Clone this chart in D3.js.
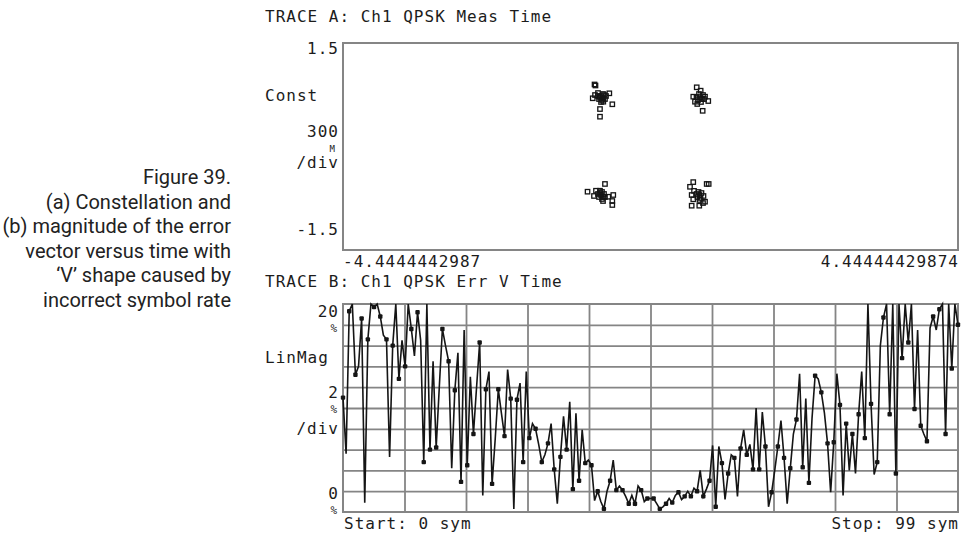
<!DOCTYPE html>
<html>
<head>
<meta charset="utf-8">
<script src="https://cdn.jsdelivr.net/npm/d3@7"></script>
<style>
    body { margin: 0; background: #fff; }
    svg { display: block; }
    .mono { font-family: "DejaVu Sans Mono", monospace; font-size: 16px; letter-spacing: 1px; fill: #1c1c1c; }
    .caption { font-family: "Liberation Sans Narrow", "Arial Narrow", Roboto, "Liberation Sans", sans-serif; font-size: 20px; fill: #222; }
</style>
</head>
<body>
<div id="chart"></div>
<script>
// ---- text
const captionLines = ["Figure 39.", "(a) Constellation and", "(b) magnitude of the error",
                      "vector versus time with", "\u2018V\u2019 shape caused by", "incorrect symbol rate"];
const traceATitle = "TRACE A: Ch1 QPSK Meas Time";
const traceBTitle = "TRACE B: Ch1 QPSK Err V Time";
const constXLabels = ["-4.4444442987", "4.44444429874"];
const errXLabels = ["Start: 0 sym", "Stop: 99 sym"];

// ---- trace A : constellation (I, Q)
const constXDomain = [-4.4444442987, 4.44444429874];
const constYDomain = [-1.5, 1.5];

const clusterTL = [[-0.809, 0.899], [-0.795, 0.884], [-0.835, 0.699], [-0.802, 0.746], [-0.759, 0.775],
                   [-0.595, 0.771], [-0.552, 0.612], [-0.730, 0.543], [-0.730, 0.432], [-0.682, 0.649],
                   [-0.643, 0.732], [-0.715, 0.732], [-0.686, 0.703], [-0.744, 0.688], [-0.701, 0.674],
                   [-0.672, 0.746], [-0.730, 0.717], [-0.658, 0.688], [-0.759, 0.732], [-0.686, 0.761],
                   [-0.715, 0.645]];
const clusterTR = [[0.668, 0.858], [0.725, 0.809], [0.618, 0.722], [0.643, 0.649], [0.835, 0.659],
                   [0.754, 0.517], [0.676, 0.616], [0.788, 0.722], [0.715, 0.717], [0.744, 0.688],
                   [0.686, 0.674], [0.759, 0.746], [0.701, 0.761], [0.730, 0.645], [0.773, 0.688],
                   [0.665, 0.717]];
const clusterBL = [[-0.910, -0.655], [-0.658, -0.543], [-0.817, -0.717], [-0.788, -0.641], [-0.730, -0.641],
                   [-0.538, -0.703], [-0.552, -0.790], [-0.552, -0.848], [-0.610, -0.728], [-0.759, -0.688],
                   [-0.715, -0.703], [-0.686, -0.732], [-0.744, -0.732], [-0.672, -0.688], [-0.701, -0.761],
                   [-0.730, -0.674], [-0.658, -0.732], [-0.701, -0.659], [-0.686, -0.790]];
const clusterBR = [[0.618, -0.516], [0.812, -0.543], [0.841, -0.543], [0.571, -0.584], [0.595, -0.703],
                   [0.618, -0.765], [0.595, -0.858], [0.705, -0.858], [0.788, -0.800], [0.629, -0.643],
                   [0.759, -0.819], [0.708, -0.703], [0.737, -0.674], [0.679, -0.732], [0.723, -0.746],
                   [0.766, -0.717], [0.694, -0.659], [0.708, -0.775], [0.665, -0.688]];

// ---- trace B : error vector magnitude (%), one value per symbol + the swing between symbols
const errXDomain = [0, 99];
const errYDomain = [0, 20];

const errSym = [11.0, 19.3, 13.2, 18.6, 16.6, 19.7, 18.8, 16.6, 16.0, 12.8,
                14.0, 17.6, 19.2, 4.8, 6.0, 6.2, 17.6, 14.5, 11.7, 2.9,
                4.5, 7.5, 16.3, 11.8, 2.7, 11.8, 7.3, 10.9, 10.8, 4.8,
                7.1, 8.0, 4.8, 6.6, 4.1, 5.3, 6.0, 2.2, 3.0, 4.7,
                4.5, 2.0, 0.3, 3.0, 2.1, 2.1, 0.8, 0.8, 2.1, 1.3,
                1.3, 0.3, 0.8, 0.9, 1.9, 1.5, 1.5, 2.0, 1.5, 3.0,
                0.5, 4.7, 3.7, 5.2, 6.1, 5.5, 4.1, 4.1, 6.3, 1.9,
                6.3, 5.2, 4.2, 8.9, 4.3, 2.8, 13.1, 11.5, 6.6, 6.7,
                10.3, 8.5, 7.5, 9.4, 7.1, 10.4, 4.8, 18.7, 9.4, 3.7,
                14.8, 16.3, 9.9, 8.3, 6.8, 18.8, 19.5, 7.5, 13.8, 18.0];

const errMid = [5.6, 20, 14, 0.9, 20, 20, 17, 5.3, 20, 16.5,
                20, 15, 16.5, 20, 14.5, 12, 16, 4.2, 15.3, 17.5,
                13, 12, 1.6, 13.5, 7, 9.5, 13.7, 0.3, 12.4, 13.5,
                8.5, 6.5, 5.5, 8.5, 0.8, 9.2, 10.6, 9.5, 7.9, 5.0,
                1.1, 1.0, 2.0, 5.0, 2.5, 1.5, 1.6, 2.5, 1.0, 1.3,
                0.8, 0.5, 1.3, 1.6, 1.2, 2.0, 2.3, 4.0, 2.2, 6.4,
                6.3, 1.2, 5.5, 1.5, 7.9, 6.5, 10.0, 9.6, 0.5, 4.0,
                8.8, 0.8, 7.5, 13.3, 10.9, 9.0, 12.8, 9.5, 1.9, 13.3,
                1.6, 4.0, 3.7, 13.5, 20, 3.6, 16, 20, 20, 20,
                20, 20, 17.5, 7.5, 17.7, 17.5, 20, 20, 20];


class VsaScreen {
    constructor(){
        this.width = 961;
        this.height = 537;
        this.panelA = {left: 343, top: 43, right: 958, bottom: 250};
        this.panelB = {left: 343, top: 304, right: 958, bottom: 512};
        this.gridColor = "#858585";
        this.ink = "#151515";
    }

    init(){
        this.svg = d3.select("#chart").append("svg")
                    .attr("width", this.width).attr("height", this.height);

        this.xA = d3.scaleLinear().domain(constXDomain).range([this.panelA.left, this.panelA.right]);
        this.yA = d3.scaleLinear().domain(constYDomain).range([this.panelA.bottom, this.panelA.top]);
        this.xB = d3.scaleLinear().domain(errXDomain).range([this.panelB.left, this.panelB.right]);
        this.yB = d3.scaleLinear().domain(errYDomain).range([this.panelB.bottom, this.panelB.top]);
    }

    draw(){
        this.drawCaption();
        this.drawTraceA();
        this.drawTraceB();
    }

    drawCaption(){
        let g = this.svg.append("g").attr("class", "caption");
        let texts = g.selectAll("text").data(captionLines).enter()
                    .append("text")
                    .attr("x", 0)
                    .attr("y", (d, i) => 184 + i * 24.6)
                    .attr("text-anchor", "end")
                    .text(d => d);
        // squeeze like a condensed face: widest line runs from the page edge
        let widest = d3.max(texts.nodes(), n => n.getComputedTextLength());
        let sx = Math.min(1, 231 / widest);
        g.attr("transform", "translate(231,0) scale(" + sx + ",1)");
    }

    mono(g, str, x, y, anchor = "start", size = 16){
        return g.append("text").attr("class", "mono")
                .attr("x", x).attr("y", y)
                .attr("text-anchor", anchor)
                .style("font-size", size + "px")
                .text(str);
    }

    // value with a small unit on the line below
    monoUnit(g, str, unit, x, y){
        this.mono(g, str, x, y, "end");
        this.mono(g, unit, x - 1, y + 15, "end", 11);
    }

    drawTraceA(){
        let p = this.panelA;
        let g = this.svg.append("g").attr("class", "trace-a");

        this.mono(g, traceATitle, 265, 22);
        this.mono(g, "1.5", 339, 54, "end");
        this.mono(g, "Const", 265, 101);
        let t = g.append("text").attr("class", "mono").attr("text-anchor", "end");
        t.append("tspan").attr("x", 339).attr("y", 137).text("300");
        t.append("tspan").attr("x", 336).attr("y", 152).style("font-size", "9px").text("M");
        t.append("tspan").attr("x", 339).attr("y", 168).text("/div");
        this.mono(g, "-1.5", 339, 235, "end");
        this.mono(g, constXLabels[0], p.left, 267);
        this.mono(g, constXLabels[1], p.right + 1, 267, "end");

        g.append("rect")
            .attr("x", p.left).attr("y", p.top)
            .attr("width", p.right - p.left).attr("height", p.bottom - p.top)
            .attr("fill", "#fff")
            .attr("stroke", this.gridColor).attr("stroke-width", 2);

        let pts = [].concat(clusterTL, clusterTR, clusterBL, clusterBR);
        let s = 4.4;
        g.append("g").selectAll("rect").data(pts).enter()
            .append("rect")
            .attr("x", d => this.xA(d[0]) - s / 2)
            .attr("y", d => this.yA(d[1]) - s / 2)
            .attr("width", s).attr("height", s)
            .attr("fill", "none")
            .attr("stroke", this.ink).attr("stroke-width", 1.3);
    }

    drawTraceB(){
        let p = this.panelB;
        let g = this.svg.append("g").attr("class", "trace-b");

        this.mono(g, traceBTitle, 265, 287);
        this.monoUnit(g, "20", "%", 339, 317);
        this.mono(g, "LinMag", 265, 363);
        this.monoUnit(g, "2", "%", 339, 398);
        this.mono(g, "/div", 339, 434, "end");
        this.monoUnit(g, "0", "%", 339, 499);
        this.mono(g, errXLabels[0], p.left + 1, 529);
        this.mono(g, errXLabels[1], p.right + 1, 529, "end");

        // 10 x 10 graticule
        let divX = d3.scaleLinear().domain([0, 10]).range([p.left, p.right]);
        let divY = d3.scaleLinear().domain([0, 10]).range([p.bottom, p.top]);

        g.append("g").attr("class", "grid-x")
            .attr("transform", "translate(0," + p.bottom + ")")
            .call(d3.axisBottom(divX).tickValues(d3.range(1, 10))
                    .tickSize(-(p.bottom - p.top)).tickFormat(""));
        g.append("g").attr("class", "grid-y")
            .attr("transform", "translate(" + p.left + ",0)")
            .call(d3.axisLeft(divY).tickValues(d3.range(1, 10))
                    .tickSize(-(p.right - p.left)).tickFormat(""));
        g.selectAll(".grid-x .domain, .grid-y .domain").remove();
        g.selectAll(".grid-x line, .grid-y line")
            .attr("stroke", this.gridColor).attr("stroke-width", 1.8);

        g.append("rect")
            .attr("x", p.left).attr("y", p.top)
            .attr("width", p.right - p.left).attr("height", p.bottom - p.top)
            .attr("fill", "none")
            .attr("stroke", this.gridColor).attr("stroke-width", 2);

        // trace
        let pts = [];
        errSym.forEach((v, i) => {
            pts.push([i, v]);
            if(i < errMid.length) pts.push([i + 0.5, errMid[i]]);
        });
        let line = d3.line()
                    .x(d => this.xB(d[0]))
                    .y(d => this.yB(Math.min(d[1], errYDomain[1])));

        g.append("path")
            .datum(pts)
            .attr("d", line)
            .attr("fill", "none")
            .attr("stroke", this.ink)
            .attr("stroke-width", 1.6)
            .attr("stroke-linejoin", "miter");

        let s = 4.4;
        g.append("g").selectAll("rect").data(errSym).enter()
            .append("rect")
            .attr("x", (d, i) => this.xB(i) - s / 2)
            .attr("y", d => this.yB(Math.min(d, errYDomain[1])) - s / 2)
            .attr("width", s).attr("height", s)
            .attr("rx", 1)
            .attr("fill", this.ink);
    }
}

let screen = new VsaScreen();
screen.init();
screen.draw();
</script>
</body>
</html>
